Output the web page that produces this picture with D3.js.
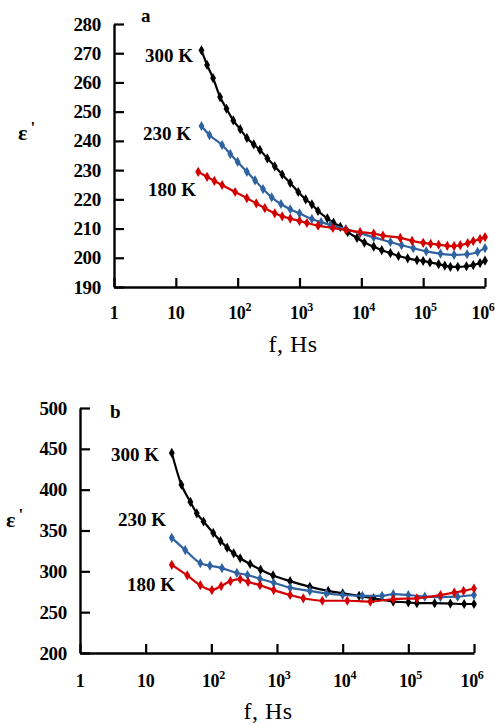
<!DOCTYPE html>
<html>
<head>
<meta charset="utf-8">
<script src="https://cdn.jsdelivr.net/npm/d3@7"></script>
<style>
  html, body { margin: 0; padding: 0; background: #fff; }
  svg { display: block; }
  text { font-family: "Liberation Serif", "Times New Roman", serif; fill: #000; }
</style>
</head>
<body>
<svg id="chart" width="495" height="724"></svg>
<script>
// ---- Panel a: permittivity vs frequency ----
const aF300 = [26, 32, 40, 52, 66, 85, 110, 141, 182, 229, 302, 398, 525, 708, 955, 1259, 1585, 1995, 2818, 3548, 4571, 6026, 8511, 11220, 15849, 21380, 29512, 39811, 56234, 79433, 100000, 128825, 177828, 223872, 275423, 363078, 501187, 645654, 831764, 1000000];
const aE300 = [271, 266, 261.5, 255, 251, 247, 244, 241, 238.8, 236.9, 234, 231.3, 228.5, 225.6, 222.5, 220, 218.3, 216, 213.5, 212, 210.6, 208.8, 206.8, 205.2, 203.8, 202.6, 201.6, 200.6, 199.8, 199.2, 198.9, 198.4, 197.8, 197.3, 196.9, 196.9, 197.1, 197.5, 198.2, 199];

const aF230 = [26, 35, 56, 76, 100, 141, 191, 257, 355, 501, 708, 1000, 1585, 2239, 3162, 5623, 9550, 15849, 29512, 44668, 69183, 112202, 190546, 316228, 512861, 758578, 1000000];
const aE230 = [245.1, 242, 238.6, 235.5, 232.8, 229.4, 226.5, 223.5, 220.7, 218.4, 216.6, 215.2, 213.3, 212.2, 211.2, 209.8, 208.4, 207, 205.4, 204.3, 203.3, 202.2, 201.4, 201, 201.2, 202, 203.3];

const aF180 = [23, 32, 42, 56, 91, 141, 200, 275, 398, 525, 708, 1000, 1318, 1995, 3467, 5623, 9550, 15849, 22387, 42658, 66069, 100000, 131826, 177828, 245471, 316228, 398107, 524807, 645654, 831764, 1000000];
const aE180 = [229.4, 227.7, 226.3, 224.9, 222.5, 220.4, 218.6, 217, 215.2, 214.2, 213.4, 212.6, 211.9, 211, 210.2, 209.5, 208.8, 208.3, 207.6, 206.8, 205.8, 205.1, 204.8, 204.5, 204.1, 204, 204.3, 205, 205.7, 206.4, 207.1];

const aYTicks = [190, 200, 210, 220, 230, 240, 250, 260, 270, 280];

// ---- Panel b ----
const bF300 = [25, 35, 48, 60, 76, 107, 138, 174, 219, 275, 389, 562, 871, 1585, 3162, 6026, 10000, 17783, 29512, 58884, 100000, 134896, 251189, 436516, 707946, 1000000];
const bE300 = [445, 406, 385, 371, 361, 347, 337, 329, 322, 316, 309, 302, 295, 288, 281, 276, 273, 270, 267, 263, 262, 261, 261, 260.5, 260, 260];

const bF230 = [25, 40, 68, 95, 145, 245, 355, 550, 891, 1585, 3162, 5623, 10000, 19953, 39811, 58884, 100000, 177828, 309030, 562341, 1000000];
const bE230 = [341, 326, 310, 307, 304, 298, 295.5, 291, 286, 280, 276, 273, 271, 270, 270, 272, 271, 269, 268.5, 269, 271];

const bF180 = [25, 43, 68, 102, 141, 195, 275, 363, 550, 891, 1585, 2512, 4898, 11749, 26303, 58884, 134896, 309030, 501187, 691831, 1000000];
const bE180 = [308, 295, 283, 277, 282, 288, 290.5, 287, 283, 277, 271, 267, 264, 264, 263, 266, 267, 271, 274, 276, 279];

const bYTicks = [200, 250, 300, 350, 400, 450, 500];

// ---- shared ----
const xTickValues = [1, 10, 100, 1000, 10000, 100000, 1000000];
const xTickBase = ["1", "10", "10", "10", "10", "10", "10"];
const xTickExp = ["", "", "2", "3", "4", "5", "6"];
const seriesNames = ["300 K", "230 K", "180 K"];
const seriesColors = ["#000000", "#2f62a0", "#d40000"];

const svg = d3.select("#chart");

function drawPanel(cfg) {
  const g = svg.append("g");
  const x = d3.scaleLog().domain([1, 1e6]).range([cfg.left, cfg.right]);
  const y = d3.scaleLinear().domain(cfg.yDomain).range([cfg.bottom, cfg.top]);

  // y axis: ticks point into the plot, labels on the left
  const ya = g.append("g")
    .attr("transform", `translate(${cfg.left},0)`)
    .call(d3.axisLeft(y).tickValues(cfg.yTicks).tickSizeInner(-10).tickSizeOuter(0).tickPadding(13));
  ya.select(".domain").attr("stroke-width", 2.4);
  ya.selectAll(".tick line").attr("stroke-width", 2.2);
  ya.selectAll(".tick text")
    .attr("font-family", "Liberation Serif, serif")
    .attr("font-weight", "bold")
    .attr("font-size", 19)
    .attr("letter-spacing", -0.3);

  // x axis: ticks point upward, labels with exponents
  const xa = g.append("g")
    .attr("transform", `translate(0,${cfg.bottom})`)
    .call(d3.axisBottom(x).tickValues(xTickValues).tickSizeInner(-9).tickSizeOuter(0).tickFormat(""));
  xa.select(".domain").attr("stroke-width", 2.4);
  xa.selectAll(".tick line").attr("stroke-width", 2.2);

  xTickValues.forEach((v, i) => {
    const t = g.append("text")
      .attr("x", x(v) + (xTickExp[i] ? (i === 6 ? -2 : 2) : 0))
      .attr("y", cfg.xLabelY)
      .attr("text-anchor", "middle")
      .attr("font-weight", "bold")
      .attr("font-size", 18)
      .attr("letter-spacing", -0.4);
    t.append("tspan").text(xTickBase[i]);
    if (xTickExp[i]) {
      t.append("tspan").attr("font-size", 12).attr("dy", -8).text(xTickExp[i]);
    }
  });

  // axis titles
  g.append("text")
    .attr("x", cfg.xTitleX).attr("y", cfg.xTitleY)
    .attr("text-anchor", "middle")
    .attr("font-size", 24)
    .attr("letter-spacing", 0.5)
    .text("f, Hs");

  const eps = g.append("text")
    .attr("x", cfg.epsX).attr("y", cfg.epsY)
    .attr("font-weight", "bold")
    .attr("font-size", 22);
  eps.append("tspan").text("ε");
  eps.append("tspan").attr("dy", -7).attr("dx", 3).attr("font-size", 17).text("'");

  g.append("text")
    .attr("x", cfg.tagX).attr("y", cfg.tagY)
    .attr("font-weight", "bold")
    .attr("font-size", 19)
    .text(cfg.tag);

  // series
  const line = d3.line()
    .x(d => x(d[0]))
    .y(d => y(d[1]))
    .curve(d3.curveMonotoneX);
  const diamond = d3.symbol().type(d3.symbolDiamond).size(30);

  cfg.series.forEach((s, i) => {
    const pts = s.f.map((f, k) => [f, s.e[k]]);
    g.append("path")
      .datum(pts)
      .attr("fill", "none")
      .attr("stroke", seriesColors[i])
      .attr("stroke-width", 2.2)
      .attr("d", line);
    g.append("g").selectAll("path")
      .data(pts)
      .join("path")
      .attr("transform", d => `translate(${x(d[0])},${y(d[1])})`)
      .attr("d", diamond)
      .attr("fill", seriesColors[i]);
  });

  cfg.labels.forEach((p, i) => {
    g.append("text")
      .attr("x", p[0]).attr("y", p[1])
      .attr("font-weight", "bold")
      .attr("font-size", 19)
      .text(seriesNames[i]);
  });
}

drawPanel({
  left: 114, right: 485, top: 24, bottom: 287,
  yDomain: [190, 280], yTicks: aYTicks,
  xLabelY: 319, xTitleX: 293, xTitleY: 352,
  epsX: 18, epsY: 140, tag: "a", tagX: 141, tagY: 22,
  series: [{ f: aF300, e: aE300 }, { f: aF230, e: aE230 }, { f: aF180, e: aE180 }],
  labels: [[145, 62], [143, 140], [148, 196]]
});

drawPanel({
  left: 80, right: 474, top: 408, bottom: 653,
  yDomain: [200, 500], yTicks: bYTicks,
  xLabelY: 687, xTitleX: 268, xTitleY: 719,
  epsX: 6, epsY: 527, tag: "b", tagX: 110, tagY: 418,
  series: [{ f: bF300, e: bE300 }, { f: bF230, e: bE230 }, { f: bF180, e: bE180 }],
  labels: [[111, 461], [118, 526], [127, 591]]
});
</script>
</body>
</html>
